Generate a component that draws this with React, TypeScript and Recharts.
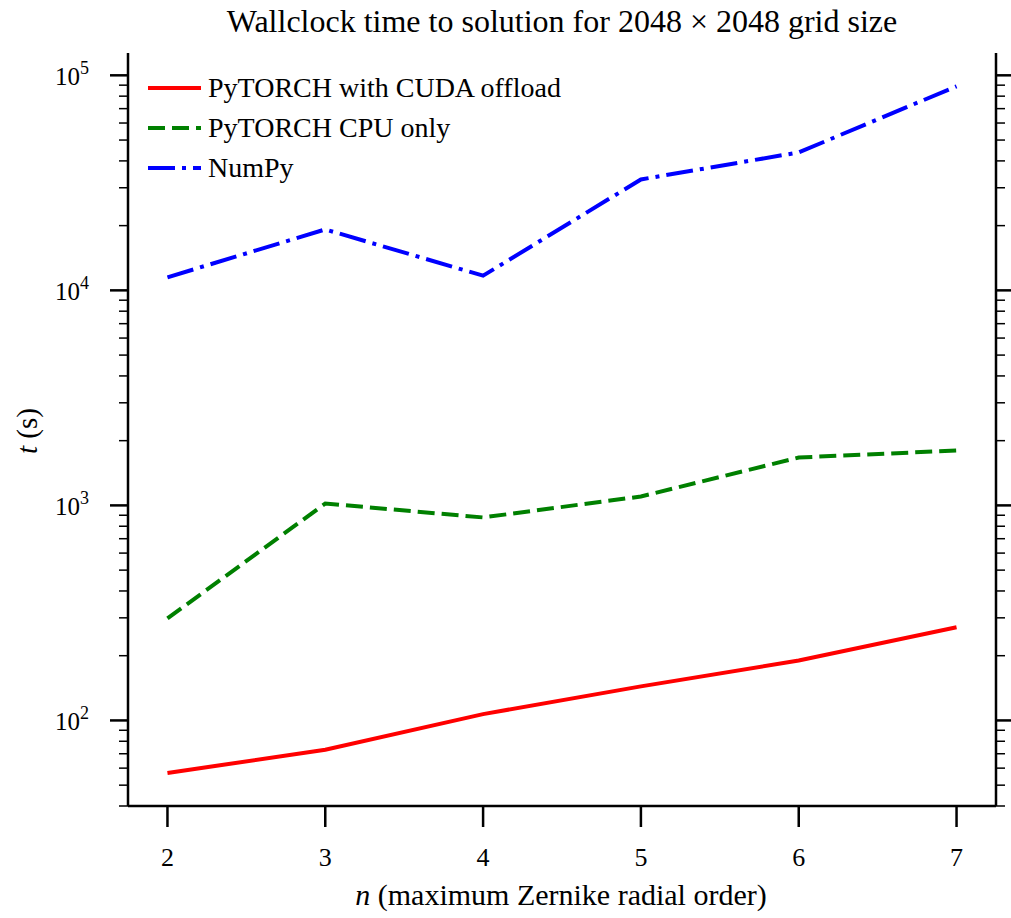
import { LineChart, Line, XAxis, YAxis, Legend } from 'recharts'

// n = maximum Zernike radial order
const N_ORDERS = [2, 3, 4, 5, 6, 7]
// wallclock times in seconds
const CUDA_TIMES = [57, 73, 107, 144, 190, 271]
const CPU_TIMES = [298, 1020, 879, 1100, 1670, 1800]
const NUMPY_TIMES = [11500, 19200, 11700, 32800, 43800, 88900]

const X_TICKS = [2, 3, 4, 5, 6, 7]
const Y_DECADES = [10, 100, 1000, 10000, 100000]
const Y_MULTS = [1, 2, 3, 4, 5, 6, 7, 8, 9]
const Y_DOMAIN: [number, number] = [40, 127000]

const FONT = '"Liberation Serif", "DejaVu Serif", serif'

const SERIES = [
  { key: 'cuda', name: 'PyTORCH with CUDA offload', color: '#ff0000', dash: undefined },
  { key: 'cpu', name: 'PyTORCH CPU only', color: '#008000', dash: '17 7' },
  { key: 'numpy', name: 'NumPy', color: '#0000ff', dash: '27 7 4 7' },
]

const data = N_ORDERS.map((n, i) => ({
  n,
  cuda: CUDA_TIMES[i],
  cpu: CPU_TIMES[i],
  numpy: NUMPY_TIMES[i],
}))

const yTicks = Y_DECADES.flatMap(d => Y_MULTS.map(m => m * d))
  .filter(v => v >= Y_DOMAIN[0] && v <= Y_DOMAIN[1])

const isMajor = (v: number) => {
  const e = Math.log10(v)
  return Math.abs(e - Math.round(e)) < 1e-9
}

function LeftTick(props: any) {
  const { x, y, payload } = props
  const v = payload.value
  const major = isMajor(v)
  return (
    <g>
      <line x1={x - (major ? 18 : 9)} x2={x} y1={y} y2={y} stroke="#000" strokeWidth={major ? 2.5 : 1.5} />
      {major && (
        <text x={x - 39} y={y + 10} textAnchor="end" fontFamily={FONT} fontSize={25} fill="#000">
          10<tspan dy={-11} fontSize={18}>{Math.round(Math.log10(v))}</tspan>
        </text>
      )}
    </g>
  )
}

function RightTick(props: any) {
  const { x, y, payload } = props
  const major = isMajor(payload.value)
  return <line x1={x} x2={x + (major ? 18 : 9)} y1={y} y2={y} stroke="#000" strokeWidth={major ? 2.5 : 1.5} />
}

function BottomTick(props: any) {
  const { x, y, payload } = props
  return (
    <g>
      <line x1={x} x2={x} y1={y + 1} y2={y + 21} stroke="#000" strokeWidth={2.5} />
      <text x={x} y={y + 60} textAnchor="middle" fontFamily={FONT} fontSize={26} fill="#000">
        {payload.value}
      </text>
    </g>
  )
}

function LegendBox() {
  return (
    <div style={{ fontFamily: FONT, fontSize: 28, color: '#000' }}>
      {SERIES.map(s => (
        <div key={s.key} style={{ display: 'flex', alignItems: 'center', height: 40 }}>
          <svg width={60} height={10}>
            <line x1={0} x2={53} y1={5} y2={5} stroke={s.color} strokeWidth={4} strokeDasharray={s.dash} />
          </svg>
          <span>{s.name}</span>
        </div>
      ))}
    </div>
  )
}

export default function App() {
  return (
    <div style={{ position: 'absolute', left: 0, top: 0, width: 1011, height: 918, background: '#fff' }}>
      <LineChart width={1011} height={918} data={data} margin={{ top: 53, right: 0, bottom: 0, left: 0 }}>
        <XAxis
          dataKey="n"
          type="number"
          domain={[1.75, 7.25]}
          ticks={X_TICKS}
          interval={0}
          height={112}
          tickSize={0}
          tickMargin={0}
          tick={<BottomTick />}
          axisLine={{ stroke: '#000', strokeWidth: 2.5 }}
          allowDataOverflow
        />
        <XAxis
          xAxisId="top"
          orientation="top"
          dataKey="n"
          type="number"
          domain={[1.75, 7.25]}
          height={0}
          tick={false}
          tickLine={false}
          axisLine={{ stroke: '#000', strokeWidth: 2.5 }}
          allowDataOverflow
        />
        <YAxis
          scale="log"
          domain={Y_DOMAIN}
          ticks={yTicks}
          interval={0}
          width={128}
          tickSize={0}
          tickMargin={0}
          tick={<LeftTick />}
          axisLine={{ stroke: '#000', strokeWidth: 2.5 }}
          allowDataOverflow
        />
        <YAxis
          yAxisId="right"
          orientation="right"
          scale="log"
          domain={Y_DOMAIN}
          ticks={yTicks}
          interval={0}
          width={15}
          tickSize={0}
          tickMargin={0}
          tick={<RightTick />}
          axisLine={{ stroke: '#000', strokeWidth: 2.5 }}
          allowDataOverflow
        />
        <Legend
          layout="vertical"
          align="center"
          verticalAlign="middle"
          content={<LegendBox />}
          wrapperStyle={{ left: 148, top: 68, width: 'auto' }}
        />
        {SERIES.map(s => (
          <Line
            key={s.key}
            dataKey={s.key}
            name={s.name}
            type="linear"
            stroke={s.color}
            strokeWidth={4}
            strokeDasharray={s.dash}
            dot={false}
            activeDot={false}
            isAnimationActive={false}
          />
        ))}
      </LineChart>
      {/* title and axis labels */}
      <svg width={1011} height={918} style={{ position: 'absolute', left: 0, top: 0, pointerEvents: 'none' }}>
        <text x={562} y={32} textAnchor="middle" fontFamily={FONT} fontSize={32} fill="#000">
          Wallclock time to solution for 2048 × 2048 grid size
        </text>
        <text x={561} y={905} textAnchor="middle" fontFamily={FONT} fontSize={30} fill="#000">
          <tspan fontStyle="italic">n</tspan> (maximum Zernike radial order)
        </text>
        <text
          transform="translate(37, 431) rotate(-90)"
          textAnchor="middle"
          fontFamily={FONT}
          fontSize={29}
          fill="#000"
        >
          <tspan fontStyle="italic">t</tspan> (s)
        </text>
      </svg>
    </div>
  )
}
